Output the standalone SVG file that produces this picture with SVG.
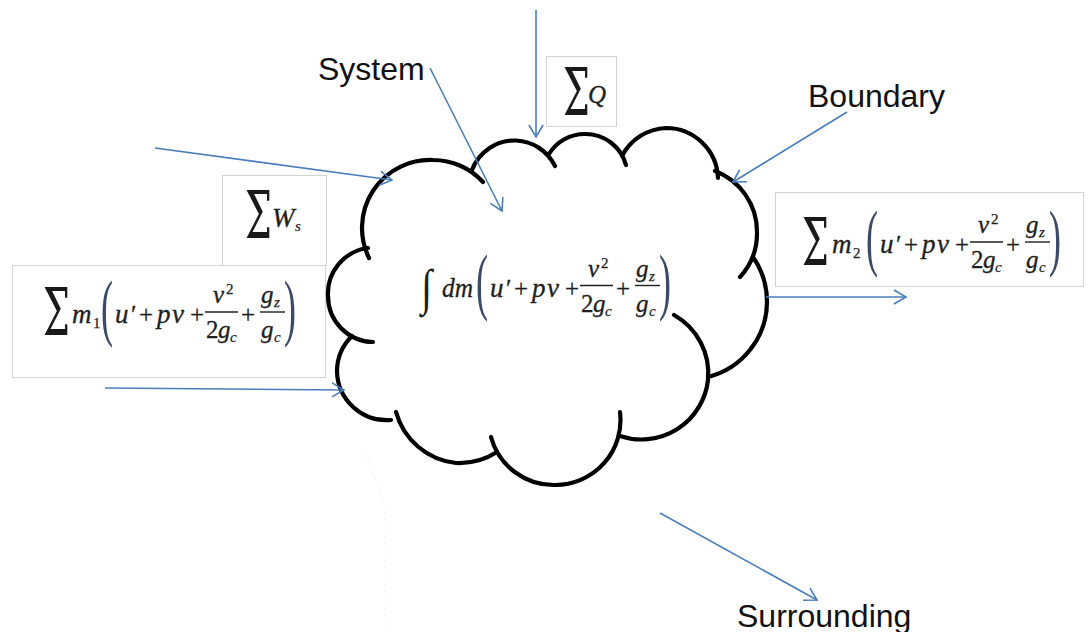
<svg xmlns="http://www.w3.org/2000/svg" width="1090" height="632" viewBox="0 0 1090 632">
<defs>
<style>
.box{fill:none;stroke:#d4d4d4;stroke-width:1}
.cloud path{fill:none;stroke:#000;stroke-width:4.2;stroke-linecap:round}
.arrow{fill:none;stroke:#4a7ebb;stroke-width:1.6;marker-end:url(#ah)}
.lbl{font-family:"Liberation Sans",Arial,sans-serif;font-size:32px;fill:#111}
.mi{font-family:"Liberation Serif",serif;font-style:italic;font-size:25px;fill:#1f1f1f;stroke:#1f1f1f;stroke-width:0.35}
.ml{font-family:"Liberation Serif",serif;font-style:italic;font-size:27px;fill:#1f1f1f;stroke:#1f1f1f;stroke-width:0.35}
.mn{font-family:"Liberation Serif",serif;font-size:25px;fill:#1f1f1f;stroke:#1f1f1f;stroke-width:0.3}
.sb{font-family:"Liberation Serif",serif;font-style:italic;font-size:15px;fill:#1f1f1f;stroke:#1f1f1f;stroke-width:0.25}
.sn{font-family:"Liberation Serif",serif;font-size:15px;fill:#1f1f1f;stroke:#1f1f1f;stroke-width:0.25}
.par{font-family:"Liberation Serif",serif;font-size:30px;fill:#3b4a66}
.big{font-family:"DejaVu Serif",serif;font-size:38px;fill:#1a1a1a}
.bar{stroke:#1f1f1f;stroke-width:1.4}
</style>
<marker id="ah" markerUnits="userSpaceOnUse" markerWidth="16" markerHeight="16" viewBox="0 0 16 16" refX="14" refY="8" orient="auto">
<path d="M2,1 L14,8 L2,15" fill="none" stroke="#4a7ebb" stroke-width="1.6"/>
</marker>
<g id="bracket">
<text class="par" transform="scale(1.2,2.5)" x="0" y="8">(</text>
<text class="ml" x="14" y="11">u</text>
<text class="mn" x="30" y="11" font-size="20">′</text>
<text class="mn" x="38" y="11" font-size="27">+</text>
<text class="ml" x="56" y="11">p</text>
<text class="ml" x="71" y="11">v</text>
<text class="mn" x="89" y="11" font-size="27">+</text>
<line class="bar" x1="104" y1="0" x2="137" y2="0"/>
<text class="mi" x="112" y="-9">v</text>
<text class="sn" x="125" y="-18">2</text>
<text class="mn" x="105" y="26">2</text>
<text class="mi" x="117" y="26">g</text>
<text class="sb" x="129" y="30">c</text>
<text class="mn" x="140" y="11" font-size="27">+</text>
<line class="bar" x1="159" y1="0" x2="184" y2="0"/>
<text class="mi" x="160" y="-9">g</text>
<text class="sb" x="173" y="-5">z</text>
<text class="mi" x="160" y="26">g</text>
<text class="sb" x="173" y="30">c</text>
<text class="par" transform="scale(1.2,2.5)" x="152.5" y="8">)</text>
</g>
</defs>
<rect width="1090" height="632" fill="#fff"/>

<g id="box-m1">
<rect class="box" x="12.5" y="265.5" width="313" height="112"/>
<text class="big" transform="translate(43,335) scale(1,1.7)">Σ</text>
<text class="ml" x="72" y="323">m</text>
<text class="sn" x="93" y="328">1</text>
<use href="#bracket" x="101" y="312"/>
</g>

<g id="box-ws">
<rect class="box" x="222.5" y="175.5" width="104" height="90"/>
<text class="big" transform="translate(245,238) scale(1,1.7)">Σ</text>
<text class="ml" x="272" y="227">W</text>
<text class="sb" x="295" y="231">s</text>
</g>

<g id="box-q">
<rect class="box" x="546.5" y="56.5" width="70" height="70"/>
<text class="big" transform="translate(563,115) scale(1,1.7)">Σ</text>
<text class="mi" x="588" y="103" font-size="23">Q</text>
</g>

<g id="box-m2">
<rect class="box" x="775.5" y="192.5" width="308" height="94"/>
<text class="big" transform="translate(802,265) scale(1,1.7)">Σ</text>
<text class="ml" x="832" y="253">m</text>
<text class="sn" x="853" y="258">2</text>
<use href="#bracket" x="866" y="242"/>
</g>

<g id="system-cloud" class="cloud">
<path d="M 369 258 A 68 68 0 0 1 433 160 A 68 68 0 0 1 483 182"/>
<path d="M 472 170 A 45.5 45.5 0 0 1 516 140.5 A 45.5 45.5 0 0 1 555 166"/>
<path d="M 549 154 A 42 42 0 0 1 585 134 A 42 42 0 0 1 626 165"/>
<path d="M 622 156 A 52 52 0 0 1 666 128 A 52 52 0 0 1 718 178"/>
<path d="M 715 171 A 65 65 0 0 1 757 232 A 65 65 0 0 1 740 277"/>
<path d="M 753 257 A 78 78 0 0 1 767 302 A 78 78 0 0 1 708 377"/>
<path d="M 674 315 A 67 67 0 0 1 708 380 A 67 67 0 0 1 620 436"/>
<path d="M 620 412 A 65 65 0 0 1 555 485 A 65 65 0 0 1 491 437"/>
<path d="M 497 452 A 70 70 0 0 1 456 463 A 70 70 0 0 1 396 412"/>
<path d="M 391 420 A 50 50 0 0 1 337 371 A 50 50 0 0 1 352 336"/>
<path d="M 373 342 A 46 46 0 0 1 328 296 A 46 46 0 0 1 368 248"/>
</g>

<g id="system-formula">
<text transform="translate(421,304) scale(1,1.25)" style="font-family:'Liberation Serif',serif;font-style:italic;font-size:40px;fill:#1f1f1f">∫</text>
<text class="ml" x="442" y="296.5" textLength="31" lengthAdjust="spacingAndGlyphs">dm</text>
<use href="#bracket" x="476" y="285.5"/>
</g>

<g id="labels">
<text class="lbl" x="318" y="80">System</text>
<text class="lbl" x="808" y="107">Boundary</text>
<text class="lbl" x="737" y="627">Surrounding</text>
</g>

<g id="connectors">
<line class="arrow" x1="536" y1="10" x2="536" y2="137"/>
<line class="arrow" x1="430" y1="68" x2="502" y2="211"/>
<line class="arrow" x1="847" y1="112" x2="733" y2="182"/>
<line class="arrow" x1="155" y1="148" x2="392" y2="180"/>
<line class="arrow" x1="105" y1="388" x2="344" y2="390"/>
<line class="arrow" x1="766" y1="297" x2="906" y2="297"/>
<line class="arrow" x1="660" y1="513" x2="817" y2="600"/>
<path d="M 366 450 L 376 482 L 385 505 L 385 632" fill="none" stroke="#e2e2e2" stroke-width="1" stroke-dasharray="1 5"/>
</g>
</svg>
